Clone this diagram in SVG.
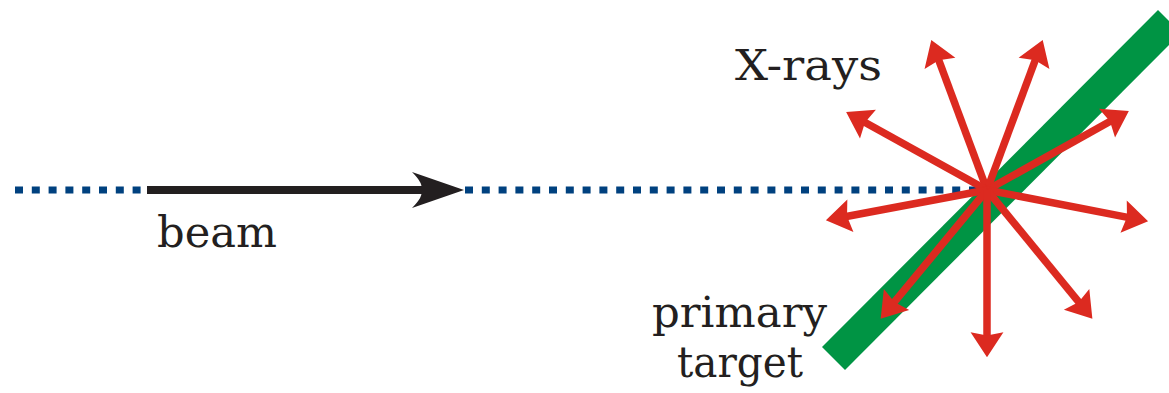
<svg xmlns="http://www.w3.org/2000/svg" width="1169" height="393" viewBox="0 0 1169 393">
<style>
.lbl{font-family:"DejaVu Serif","Liberation Serif",serif;font-size:43px;fill:#231f20}
.dots{stroke:#00417f;stroke-width:7;stroke-dasharray:8 8.8;fill:none}
.ray{stroke:#dc2a20;stroke-width:7.5;fill:none;marker-end:url(#rh)}
</style>
<defs>
<marker id="rh" markerUnits="userSpaceOnUse" markerWidth="30" markerHeight="34" viewBox="0 -15 24 30" refX="6" refY="0" orient="auto">
<path d="M0,-14.5 L22,0 L0,14.5 L3,0 Z" fill="#dc2a20"/>
</marker>
</defs>
<g id="target">
<polygon points="822,347 845,370 1181,33 1158,10" fill="#009444"/>
</g>
<g id="beam">
<line class="dots" x1="15" y1="190" x2="141" y2="190"/>
<line class="dots" x1="465" y1="190" x2="985" y2="190"/>
<line x1="147" y1="190" x2="425" y2="190" stroke="#231f20" stroke-width="8"/>
<path d="M464,190 L412,172 Q424,184 421,190 Q424,196 412,208 Z" fill="#231f20"/>
</g>
<g id="connectors">
<line class="ray" x1="987" y1="190" x2="937.6" y2="57"/>
<line class="ray" x1="987" y1="190" x2="1036.4" y2="57"/>
<line class="ray" x1="987" y1="190" x2="862" y2="120.8"/>
<line class="ray" x1="987" y1="190" x2="1113" y2="119.8"/>
<line class="ray" x1="987" y1="190" x2="843.7" y2="217"/>
<line class="ray" x1="987" y1="190" x2="1130.3" y2="217.9"/>
<line class="ray" x1="987" y1="190" x2="892.2" y2="304.7"/>
<line class="ray" x1="987" y1="190" x2="1080.9" y2="304.6"/>
<line class="ray" x1="987" y1="190" x2="987" y2="339"/>
</g>
<g id="labels">
<text class="lbl" x="157" y="247" textLength="120" lengthAdjust="spacingAndGlyphs">beam</text>
<text class="lbl" x="735" y="80" textLength="147" lengthAdjust="spacingAndGlyphs">X-rays</text>
<text class="lbl" x="652" y="327" textLength="175" lengthAdjust="spacingAndGlyphs">primary</text>
<text class="lbl" x="677" y="377" textLength="126" lengthAdjust="spacingAndGlyphs">target</text>
</g>
</svg>
